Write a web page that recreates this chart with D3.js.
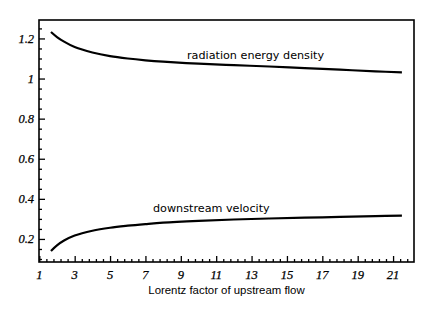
<!DOCTYPE html>
<html><head><meta charset="utf-8">
<script src="https://cdn.jsdelivr.net/npm/d3@7"></script>
<style>body{margin:0;background:#fff}
.tl{font-family:"Liberation Serif","Times New Roman",serif;font-style:italic;font-size:12.5px;fill:#000}
</style>
</head><body>
<svg id="c" width="436" height="311"></svg>
<script>
const gamma = [1.66, 2.0, 2.4, 3.0, 4.0, 5.0, 6.0, 7.0, 8.0, 10, 12, 14, 16, 18, 20, 21.5];
const radiationEnergy = [1.232, 1.207, 1.184, 1.157, 1.130, 1.112, 1.100, 1.091, 1.084, 1.074, 1.067, 1.060, 1.052, 1.044, 1.036, 1.031];
const downstreamVel = [0.140, 0.168, 0.192, 0.217, 0.241, 0.256, 0.266, 0.274, 0.281, 0.290, 0.297, 0.302, 0.306, 0.310, 0.314, 0.316];
const xTickLabels = [1, 3, 5, 7, 9, 11, 13, 15, 17, 19, 21];
const yTickLabels = [0.2, 0.4, 0.6, 0.8, 1, 1.2];
const seriesLabels = ["radiation energy density", "downstream velocity"];
const xTitle = "Lorentz factor of upstream flow";

const svg = d3.select("#c");
const L = 39, R = 414, T = 20, B = 262;
const x = d3.scaleLinear().domain([1, 22.2]).range([L + 0.3, R + 0.3]);
const y = d3.scaleLinear().domain([0.085, 1.292]).range([B, T]);

const xMinor = d3.range(1, 22.2, 0.4).filter(v => Math.abs((v - 1) / 2 - Math.round((v - 1) / 2)) > 1e-6);
const yMinor = d3.range(0.1, 1.29, 0.05).filter(v => Math.abs(v / 0.2 - Math.round(v / 0.2)) > 1e-6);

const xAxisMaj = d3.axisTop(x).tickValues(xTickLabels).tickSize(6).tickFormat("");
const xAxisMin = d3.axisTop(x).tickValues(xMinor).tickSize(3).tickFormat("");
const yAxisMaj = d3.axisRight(y).tickValues(yTickLabels).tickSize(6).tickFormat("");
const yAxisMin = d3.axisRight(y).tickValues(yMinor).tickSize(3).tickFormat("");

function styleAxis(g) {
  g.select(".domain").remove();
  g.selectAll("line").attr("stroke", "#000").attr("stroke-width", 1.3);
}
svg.append("g").attr("transform", `translate(0,${B})`).call(xAxisMaj).call(styleAxis);
svg.append("g").attr("transform", `translate(0,${B})`).call(xAxisMin).call(styleAxis);
svg.append("g").attr("transform", `translate(${L},0)`).call(yAxisMaj).call(styleAxis);
svg.append("g").attr("transform", `translate(${L},0)`).call(yAxisMin).call(styleAxis);

svg.append("rect").attr("x", L).attr("y", T).attr("width", R - L).attr("height", B - T)
  .attr("fill", "none").attr("stroke", "#000").attr("stroke-width", 1.6);

svg.append("g").selectAll("text").data(xTickLabels).join("text").attr("class", "tl")
  .attr("x", d => x(d)).attr("y", 279).attr("text-anchor", "middle")
  .attr("stroke", "#000").attr("stroke-width", 0.25)
  .text(d => d);
svg.append("g").selectAll("text").data(yTickLabels).join("text").attr("class", "tl")
  .attr("x", 34).attr("y", d => y(d) + 4.5).attr("text-anchor", "end")
  .attr("stroke", "#000").attr("stroke-width", 0.25)
  .text(d => d);

svg.append("text").attr("x", (L + R) / 2).attr("y", 294).attr("text-anchor", "middle")
  .attr("font-family", "Liberation Sans").attr("font-size", 11.4).attr("fill", "#000").text(xTitle);

const line = d3.line().x((d, i) => x(gamma[i])).y(d => y(d)).curve(d3.curveCatmullRom.alpha(0.5));
[radiationEnergy, downstreamVel].forEach(s => {
  svg.append("path").attr("d", line(s)).attr("fill", "none").attr("stroke", "#000")
    .attr("stroke-width", 2.2);
});

svg.append("text").attr("x", 187).attr("y", 59).attr("font-family", "DejaVu Sans")
  .attr("font-size", 11.2).attr("fill", "#000").text(seriesLabels[0]);
svg.append("text").attr("x", 153).attr("y", 212).attr("font-family", "DejaVu Sans")
  .attr("font-size", 11.2).attr("fill", "#000").text(seriesLabels[1]);
</script>
</body></html>
